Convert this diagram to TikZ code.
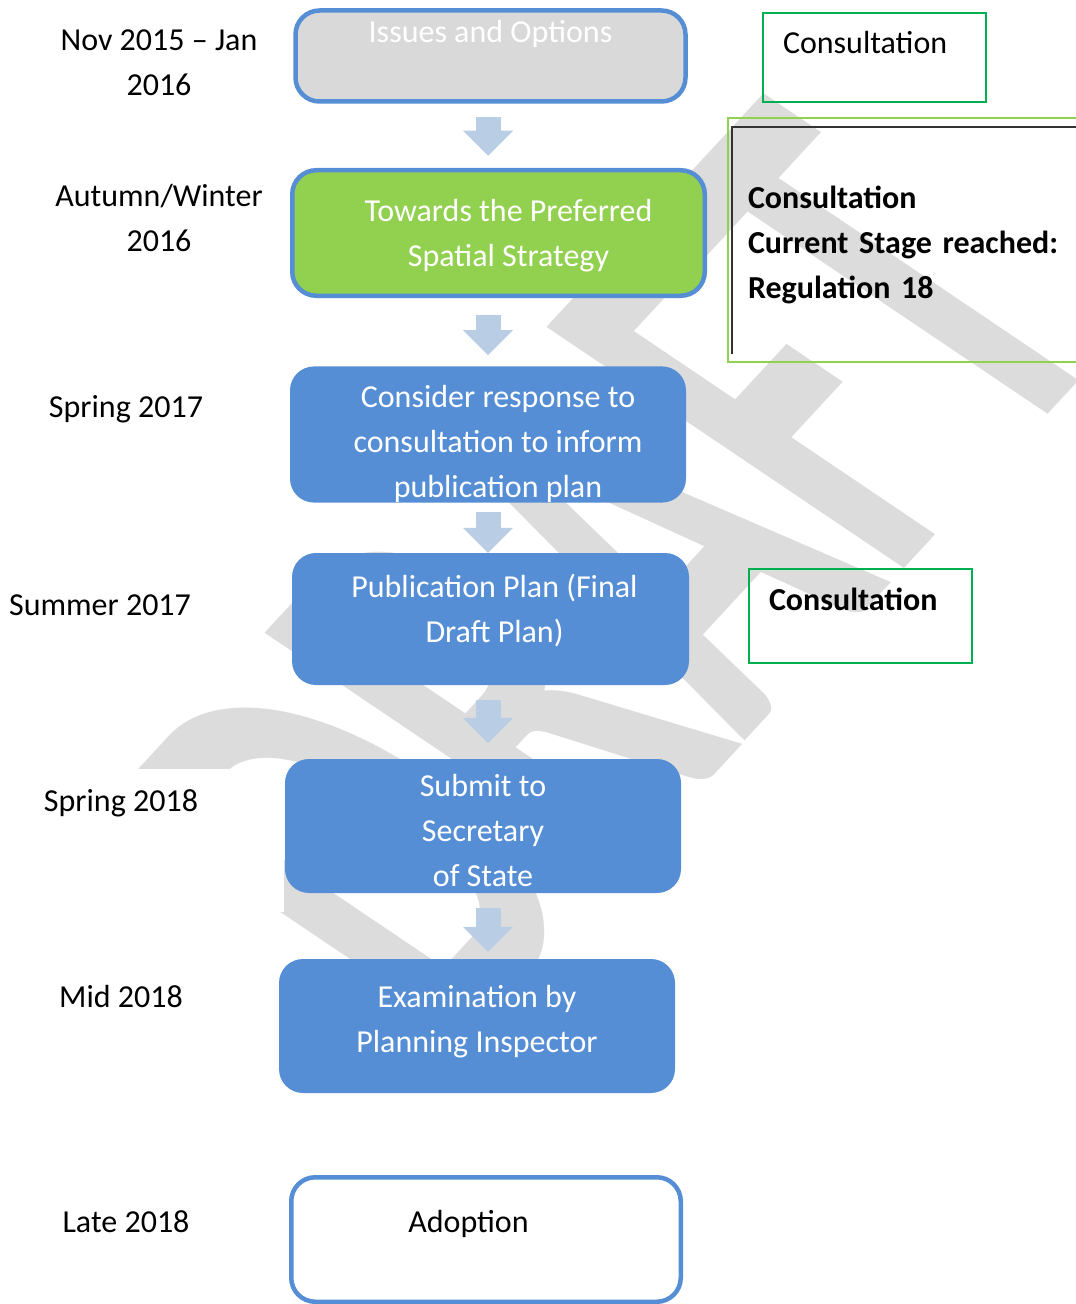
\documentclass[tikz,border=0pt]{standalone}
\usepackage{fontspec}
\setmainfont{Carlito}
\usetikzlibrary{arrows.meta}
\definecolor{stageblue}{HTML}{558ED5}
\definecolor{arrowblue}{HTML}{B9CDE5}
\definecolor{issuegrey}{HTML}{D9D9D9}
\definecolor{towardgreen}{HTML}{92D050}
\definecolor{consultgreen}{HTML}{00B050}
\definecolor{draftgrey}{HTML}{DCDCDC}
\tikzset{
  stage/.style={rounded corners=24bp, fill=stageblue, text=white, align=center,
    inner sep=0pt, minimum width=396bp, minimum height=133bp},
  framed/.style={stage, draw=stageblue, line width=4.5bp},
  consult/.style={draw=consultgreen, line width=2bp, align=left, inner sep=0pt},
  downarrow/.style={draw=arrowblue, line width=25bp,
    -{Triangle[width=50bp,length=25bp,line width=0pt]}},
  wmark/.style={text=draftgrey, font=\fontsize{359bp}{359bp}\selectfont\bfseries, inner sep=0pt}
}
\begin{document}
\begin{tikzpicture}[x=1bp, y=-1bp, font=\fontsize{32bp}{45bp}\selectfont]
      \useasboundingbox (0,0) rectangle (1075,1304);
      \begin{scope}
        \clip (0,0) rectangle (1075,1304) (284,768) rectangle (0,912);
        \begin{scope}[shift={(455,1055)}]
          \node[wmark, anchor=base west, cm={0.676,0.731,-1.536,1.036,(0,0)}] (draft) at (0,0) {DRAFT};
        \end{scope}
      \end{scope}
      \coordinate (spine) at (488,0);
      \node[framed, fill=issuegrey, minimum width=390bp, minimum height=91bp,
        text height=22bp, text depth=48bp] (issues) at (490.5,56) {Issues and Options};
      \node[framed, fill=towardgreen, minimum width=412.5bp, minimum height=125.5bp] (towards) at (498.5,233)
        {\hspace*{20bp}\rule{0pt}{27bp}Towards the Preferred\\\hspace*{20bp}Spatial Strategy};
      \node[stage] (consider) at (488,434.5)
        {\hspace*{20bp}\rule{0pt}{41bp}Consider response to\\\hspace*{20bp}consultation to inform\\\hspace*{20bp}publication plan};
      \node[stage, minimum width=397bp, minimum height=132bp] (publication) at (490.5,619)
        {\hspace*{8bp}Publication Plan (Final\\\hspace*{8bp}Draft Plan)\rule[-20.5bp]{0pt}{0pt}};
      \node[stage, minimum height=134bp] (submit) at (483,826)
        {\rule{0pt}{31bp}Submit to\\Secretary\\of State};
      \node[stage, minimum height=134bp] (exam) at (477,1026)
        {Examination by\\Planning Inspector\rule[-14.5bp]{0pt}{0pt}};
      \node[framed, fill=white, text=black, minimum width=389.5bp, minimum height=124.5bp,
        text height=22bp, text depth=37bp] (adoption) at (486,1239.5) {Adoption\hspace*{35bp}};
      \draw[downarrow, shorten <=13.5bp, shorten >=12.25bp] (issues.south -| spine) -- (towards.north -| spine);
      \draw[downarrow, shorten <=17.25bp, shorten >=11bp] (towards.south -| spine) -- (consider.north -| spine);
      \draw[downarrow, shorten <=9bp] (consider.south -| spine) -- (publication.north -| spine);
      \draw[downarrow, shorten <=15bp, shorten >=16bp] (publication.south -| spine) -- (submit.north -| spine);
      \draw[downarrow, shorten <=15bp, shorten >=7bp] (submit.south -| spine) -- (exam.north -| spine);
      \node[align=center] (nov) at (159,62.5) {Nov 2015 – Jan\\2016};
      \node[align=center] (autumn) at (159,218.5) {Autumn/Winter\\2016};
      \node (spring17) at (126,409) {Spring 2017};
      \node (summer17) at (100,605) {Summer 2017};
      \node (spring18) at (121,803) {Spring 2018};
      \node (mid18) at (121,996) {Mid 2018};
      \node (late18) at (126,1222) {Late 2018};
      \node[consult, minimum width=223bp, minimum height=89bp, text width=183bp,
        text height=22bp, text depth=29bp] (consulta) at (874.5,57.5) {Consultation};
      \node[consult, draw=towardgreen, minimum width=357bp, minimum height=244bp,
        text width=317bp, font=\fontsize{32bp}{45bp}\selectfont\bfseries] (regbox) at (906.5,240)
        {\rule{0pt}{33bp}Consultation\\Current Stage reached:\\Regulation 18};
      \draw[black!80, line width=2bp] ([shift={(5,-9)}]regbox.south west) |- ([shift={(0,10)}]regbox.north east);
      \node[consult, minimum width=223bp, minimum height=94bp, text width=183bp,
        text height=22bp, text depth=34bp, font=\fontsize{32bp}{45bp}\selectfont\bfseries]
        (consultb) at (860.5,616) {Consultation};
    \end{tikzpicture}
\end{document}
